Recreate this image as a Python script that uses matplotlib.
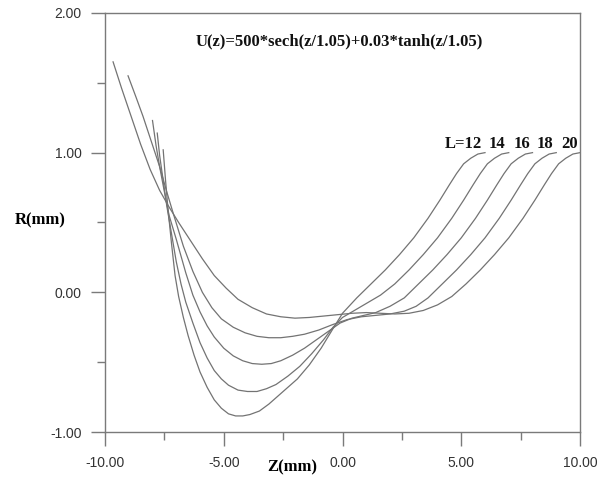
import matplotlib
matplotlib.use("Agg")
import matplotlib.pyplot as plt
from matplotlib.ticker import MultipleLocator, FormatStrFormatter

# curve data: z (mm), R (mm)
z12 = [-7.55, -7.45, -7.35, -7.2, -7.05, -6.9, -6.7, -6.5, -6.25, -6.0, -5.7, -5.4, -5.1, -4.8, -4.5,
       -4.2, -3.9, -3.5, -3.1, -2.7, -2.3, -1.9, -1.4, -0.9, -0.4, 0.0, 0.6, 1.2, 1.8, 2.4, 3.0, 3.6,
       4.1, 4.5, 4.8, 5.1, 5.4, 5.7, 6.0]
r12 = [1.02, 0.80, 0.60, 0.35, 0.12, -0.03, -0.18, -0.31, -0.45, -0.57, -0.68, -0.77, -0.83, -0.87, -0.885,
       -0.885, -0.875, -0.85, -0.80, -0.74, -0.68, -0.62, -0.52, -0.40, -0.26, -0.15, -0.04, 0.06, 0.16, 0.27, 0.39, 0.53,
       0.66, 0.77, 0.85, 0.92, 0.96, 0.99, 1.0]

z14 = [-7.8, -7.7, -7.55, -7.4, -7.2, -7.0, -6.8, -6.6, -6.3, -6.0, -5.7, -5.4, -5.1, -4.8, -4.4,
       -4.0, -3.6, -3.2, -2.8, -2.3, -1.8, -1.3, -0.8, -0.4, 0.0, 0.5, 1.0, 1.6, 2.2, 2.8, 3.4, 4.0,
       4.6, 5.1, 5.5, 5.8, 6.1, 6.4, 6.7, 7.0]
r14 = [1.14, 0.98, 0.80, 0.62, 0.42, 0.22, 0.06, -0.07, -0.22, -0.36, -0.47, -0.56, -0.62, -0.665, -0.70,
       -0.71, -0.71, -0.69, -0.66, -0.60, -0.53, -0.44, -0.34, -0.25, -0.18, -0.13, -0.08, -0.02, 0.06, 0.16, 0.27, 0.39,
       0.53, 0.66, 0.77, 0.85, 0.92, 0.96, 0.99, 1.0]

z16 = [-8.0, -7.85, -7.7, -7.5, -7.3, -7.0, -6.6, -6.3, -6.0, -5.7, -5.4, -5.0, -4.6, -4.2, -3.8,
       -3.4, -3.0, -2.6, -2.1, -1.6, -1.1, -0.6, -0.1, 0.4, 0.9, 1.4, 2.0, 2.6, 3.2, 3.8, 4.4, 5.0,
       5.6, 6.1, 6.5, 6.8, 7.1, 7.4, 7.7, 8.0]
r16 = [1.23, 1.05, 0.90, 0.72, 0.55, 0.38, 0.14, -0.02, -0.14, -0.24, -0.32, -0.40, -0.455, -0.49, -0.51,
       -0.515, -0.51, -0.49, -0.45, -0.40, -0.34, -0.28, -0.22, -0.185, -0.165, -0.145, -0.10, -0.04, 0.06, 0.16, 0.27, 0.39,
       0.53, 0.66, 0.77, 0.85, 0.92, 0.96, 0.99, 1.0]

z18 = [-9.03, -8.7, -8.4, -8.05, -7.7, -7.4, -7.1, -6.7, -6.3, -5.9, -5.5, -5.1, -4.6, -4.1, -3.6,
       -3.1, -2.6, -2.1, -1.6, -1.0, -0.4, 0.2, 0.8, 1.4, 2.0, 2.6, 3.1, 3.6, 4.2, 4.8, 5.4, 6.0,
       6.6, 7.1, 7.5, 7.8, 8.1, 8.4, 8.7, 9.0]
r18 = [1.55, 1.40, 1.26, 1.08, 0.90, 0.72, 0.55, 0.33, 0.15, 0.00, -0.11, -0.19, -0.25, -0.29, -0.315,
       -0.325, -0.325, -0.315, -0.30, -0.27, -0.23, -0.195, -0.175, -0.165, -0.155, -0.135, -0.10, -0.04, 0.06, 0.16, 0.27, 0.39,
       0.53, 0.66, 0.77, 0.85, 0.92, 0.96, 0.99, 1.0]

z20 = [-9.66, -9.3, -8.9, -8.5, -8.1, -7.7, -7.3, -6.9, -6.4, -5.9, -5.4, -4.9, -4.4, -3.8, -3.2,
       -2.6, -2.0, -1.4, -0.8, -0.2, 0.4, 1.0, 1.6, 2.2, 2.8, 3.4, 4.0, 4.6, 5.2, 5.8, 6.4, 7.0,
       7.6, 8.1, 8.5, 8.8, 9.1, 9.4, 9.7, 10.0]
r20 = [1.65, 1.46, 1.26, 1.06, 0.88, 0.73, 0.61, 0.50, 0.37, 0.24, 0.12, 0.03, -0.05, -0.11, -0.155,
       -0.175, -0.185, -0.18, -0.17, -0.16, -0.15, -0.145, -0.15, -0.155, -0.15, -0.13, -0.09, -0.03, 0.06, 0.16, 0.27, 0.39,
       0.53, 0.66, 0.77, 0.85, 0.92, 0.96, 0.99, 1.0]

curves = [(z12, r12), (z14, r14), (z16, r16), (z18, r18), (z20, r20)]
lengths = ['12', '14', '16', '18', '20']
label_z = [5.87, 6.84, 7.9, 8.86, 9.92]

serif = 'Liberation Serif'
sans = 'Liberation Sans'
grey = '#7a7a7a'

fig = plt.figure(figsize=(6, 4.8), dpi=100)
ax = fig.add_axes([0.175, 0.1, 0.7917, 0.873])

for z, r in curves:
    ax.plot(z, r, color='#737373', lw=0.9)

ax.set_xlim(-10, 10)
ax.set_ylim(-1, 2)

ax.xaxis.set_major_locator(MultipleLocator(5))
ax.xaxis.set_minor_locator(MultipleLocator(2.5))
ax.yaxis.set_major_locator(MultipleLocator(1))
ax.yaxis.set_minor_locator(MultipleLocator(0.5))
ax.xaxis.set_major_formatter(FormatStrFormatter('%.2f'))
ax.yaxis.set_major_formatter(FormatStrFormatter('%.2f'))

ax.tick_params(which='major', direction='out', length=10, width=1, color=grey,
               labelsize=10, labelcolor='#333333', pad=7)
ax.tick_params(which='minor', direction='out', length=6, width=1, color=grey)
for lab in ax.get_xticklabels() + ax.get_yticklabels():
    lab.set_fontfamily(sans)

for s in ax.spines.values():
    s.set_color(grey)
    s.set_linewidth(1)

ax.set_ylabel('R(mm)', family=serif, fontweight='bold', fontsize=12, rotation=0,
              va='center', ha='center')
ax.yaxis.set_label_coords(-0.137, 0.506)
ax.set_xlabel('Z(mm)', family=serif, fontweight='bold', fontsize=12, va='center')
ax.xaxis.set_label_coords(0.394, -0.084)

ax.text(-0.13, 1.77, 'U(z)=500*sech(z/1.05)+0.03*tanh(z/1.05)', family=serif,
        fontweight='bold', fontsize=12, ha='center', va='baseline', color='#111111')

for i, (t, x) in enumerate(zip(lengths, label_z)):
    txt = 'L=' + t if i == 0 else t
    ax.text(x, 1.03, txt, family=serif, fontweight='bold', fontsize=12,
            ha='right', va='baseline', color='#111111')

fig.savefig('out.png', dpi=100, facecolor='white')
